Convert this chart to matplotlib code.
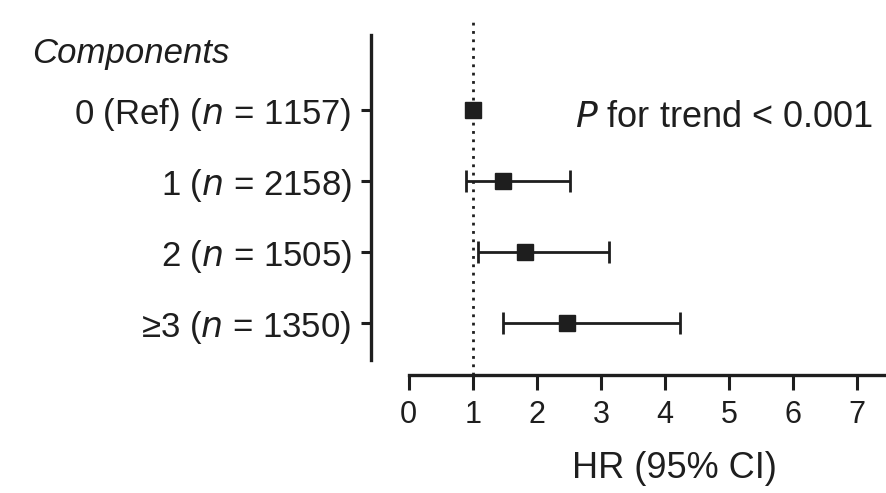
import numpy as np
import matplotlib
matplotlib.use("Agg")
import matplotlib.pyplot as plt

plt.rcParams['font.family'] = ['Liberation Sans', 'DejaVu Sans']

# data
labels = ['0 (Ref) ($\\it{n}$ = 1157)', '1 ($\\it{n}$ = 2158)',
          '2 ($\\it{n}$ = 1505)', '≥3 ($\\it{n}$ = 1350)']
hr = [1.0, 1.47, 1.81, 2.47]
ci_low = [1.0, 0.89, 1.08, 1.47]
ci_high = [1.0, 2.52, 3.13, 4.23]
xticks = [0, 1, 2, 3, 4, 5, 6, 7]

ink = '#1e1e1e'
fig = plt.figure(figsize=(8.86, 4.93), dpi=100)
ax = fig.add_axes([0.4187, 0.2394, 0.5813, 0.72])

ypos = np.arange(len(labels))[::-1] + 1
ax.axvline(1, color=ink, lw=2.0, ls=(0, (1, 2)), zorder=1)

for y, h, lo, hi in zip(ypos, hr, ci_low, ci_high):
    if hi > lo:
        ax.errorbar(h, y, xerr=[[h - lo], [hi - h]], fmt='none', ecolor=ink,
                    elinewidth=2.0, capsize=8, capthick=2.0, zorder=2)
    ax.plot(h, y, marker='s', ms=12, color=ink, zorder=3)

for s in ['top', 'right']:
    ax.spines[s].set_visible(False)
ax.spines['left'].set_linewidth(2.4)
ax.spines['left'].set_color(ink)
ax.spines['left'].set_bounds(0.48, 5.06)
ax.spines['bottom'].set_linewidth(2.4)
ax.spines['bottom'].set_color(ink)
ax.spines['bottom'].set_bounds(0, 7.45)

ax.set_ylim(0.27, 5.27)
ax.set_xlim(-0.59, 7.45)
ax.set_yticks(ypos)
ax.set_yticklabels(labels)
ax.set_xticks(xticks)
ax.set_xticklabels([str(t) for t in xticks])
ax.tick_params(axis='y', length=7, width=2.2, color=ink, pad=7,
               labelcolor=ink, labelsize=25)
ax.tick_params(axis='x', length=11, width=2.2, color=ink, pad=7,
               labelcolor=ink, labelsize=22)

fig.text(674 / 886, 1 - 478 / 493, 'HR (95% CI)', fontsize=26, color=ink,
         ha='center', va='baseline')
fig.text(32 / 886, 1 - 63 / 493, 'Components', fontsize=25, style='italic',
         color=ink, ha='left', va='baseline')
fig.text(873 / 886, 1 - 127 / 493, '$\\it{P}$ for trend < 0.001',
         fontsize=26, color=ink, ha='right', va='baseline')

fig.savefig('out.png', dpi=100)
